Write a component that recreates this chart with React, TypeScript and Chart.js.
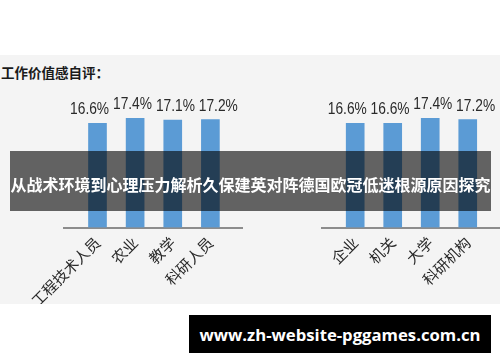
import React, { useEffect, useRef } from "react";
import { Chart, registerables } from "chart.js";

Chart.register(...registerables);

const TITLE = "工作价值感自评：";
const leftCategories = ["工程技术人员", "农业", "教学", "科研人员"];
const leftValues = [16.6, 17.4, 17.1, 17.2];
const rightCategories = ["企业", "机关", "大学", "科研机构"];
const rightValues = [16.6, 16.6, 17.4, 17.2];
const BANNER = "从战术环境到心理压力解析久保建英对阵德国欧冠低迷根源原因探究";
const WATERMARK = "www.zh-website-pggames.com.cn";

const BAR_COLOR = "#5b9bd5";
const CJK = '"Noto Sans CJK SC", "Noto Sans", sans-serif';
const NUM_FONT = '"Liberation Sans", "Noto Sans", sans-serif';

const valueLabels = {
  id: "valueLabels",
  afterDatasetsDraw(chart: any) {
    const ctx = chart.ctx;
    const ds = chart.data.datasets[0];
    const bars = chart.getDatasetMeta(0).data;
    const center = bars.reduce((s: number, b: any) => s + b.x, 0) / bars.length;
    ctx.save();
    ctx.font = `16px ${NUM_FONT}`;
    ctx.fillStyle = "#2a2a2a";
    ctx.textAlign = "center";
    ctx.textBaseline = "alphabetic";
    bars.forEach((bar: any, i: number) => {
      const v = ds.data[i].y;
      const lx = center + (bar.x - center) * 1.14;
      ctx.save();
      ctx.translate(lx, bar.y - 9);
      ctx.scale(0.86, 1);
      ctx.fillText(`${v.toFixed(1)}%`, 0, 0);
      ctx.restore();
    });
    ctx.restore();
  },
};

function BarPanel(props: {
  categories: string[];
  values: number[];
  xMin: number;
  xMax: number;
  padLeft: number;
  padRight: number;
  style: React.CSSProperties;
}) {
  const ref = useRef<HTMLCanvasElement>(null);
  useEffect(() => {
    if (!ref.current) return;
    const cats = props.categories;
    const chart = new Chart(ref.current, {
      type: "bar",
      data: {
        datasets: [
          {
            data: props.values.map((v, i) => ({ x: i, y: v })),
            backgroundColor: BAR_COLOR,
            barThickness: 18,
          },
        ],
      },
      options: {
        responsive: false,
        animation: false,
        layout: { padding: { left: props.padLeft, right: props.padRight, top: 47, bottom: 0 } },
        plugins: { legend: { display: false }, tooltip: { enabled: false }, title: { display: false } },
        scales: {
          x: {
            type: "linear",
            offset: false,
            min: props.xMin,
            max: props.xMax,
            afterBuildTicks: (axis: any) => {
              axis.ticks = cats.map((_, i) => ({ value: i }));
            },
            afterFit: (axis: any) => {
              axis.height = 76.5;
            },
            grid: { display: false, drawTicks: false },
            border: { display: true, color: "#8c8c8c", width: 2 },
            ticks: {
              autoSkip: false,
              minRotation: 45,
              maxRotation: 45,
              padding: 6,
              color: "#2a2a2a",
              font: { size: 15, family: CJK },
              callback: (v: any) => cats[v as number] ?? "",
            },
          },
          y: { display: false, min: 0, max: 20 },
        },
      },
      plugins: [valueLabels],
    } as any);
    return () => chart.destroy();
  }, []);
  return <canvas ref={ref} width={250} height={249} style={{ position: "absolute", ...props.style }} />;
}

export default function App() {
  return (
    <div style={{ position: "fixed", left: 0, top: 0, width: 500, height: 362, background: "#ffffff", overflow: "hidden" }}>
      <div style={{ position: "absolute", left: 0, top: 55, width: 500, height: 249, background: "#f4f4f4" }} />
      <div
        style={{
          position: "absolute",
          left: 1,
          top: 64,
          fontFamily: CJK,
          fontWeight: 700,
          fontSize: 13.5,
          lineHeight: "16px",
          color: "#1a1a1a",
          whiteSpace: "nowrap",
        }}
      >
        {TITLE}
      </div>
      <BarPanel categories={leftCategories} values={leftValues} xMin={-0.89} xMax={3.84} padLeft={64} padRight={8} style={{ left: 0, top: 55 }} />
      <BarPanel categories={rightCategories} values={rightValues} xMin={-0.885} xMax={3.86} padLeft={72} padRight={0} style={{ left: 250, top: 55 }} />
      <div
        style={{
          position: "absolute",
          left: 10,
          top: 151,
          width: 481,
          height: 60,
          background: "rgba(0,0,0,0.6)",
          color: "#ffffff",
          fontFamily: CJK,
          fontWeight: 700,
          fontSize: 16,
          display: "flex",
          alignItems: "center",
          justifyContent: "center",
          paddingTop: 6,
          boxSizing: "border-box",
          whiteSpace: "nowrap",
        }}
      >
        {BANNER}
      </div>
      <div
        style={{
          position: "absolute",
          left: 189,
          top: 315,
          width: 302,
          height: 38,
          background: "#000000",
          color: "#ffffff",
          fontFamily: '"Open Sans", "Noto Sans", sans-serif',
          fontWeight: 700,
          fontSize: 16.7,
          display: "flex",
          alignItems: "center",
          justifyContent: "center",
          whiteSpace: "nowrap",
        }}
      >
        {WATERMARK}
      </div>
    </div>
  );
}
